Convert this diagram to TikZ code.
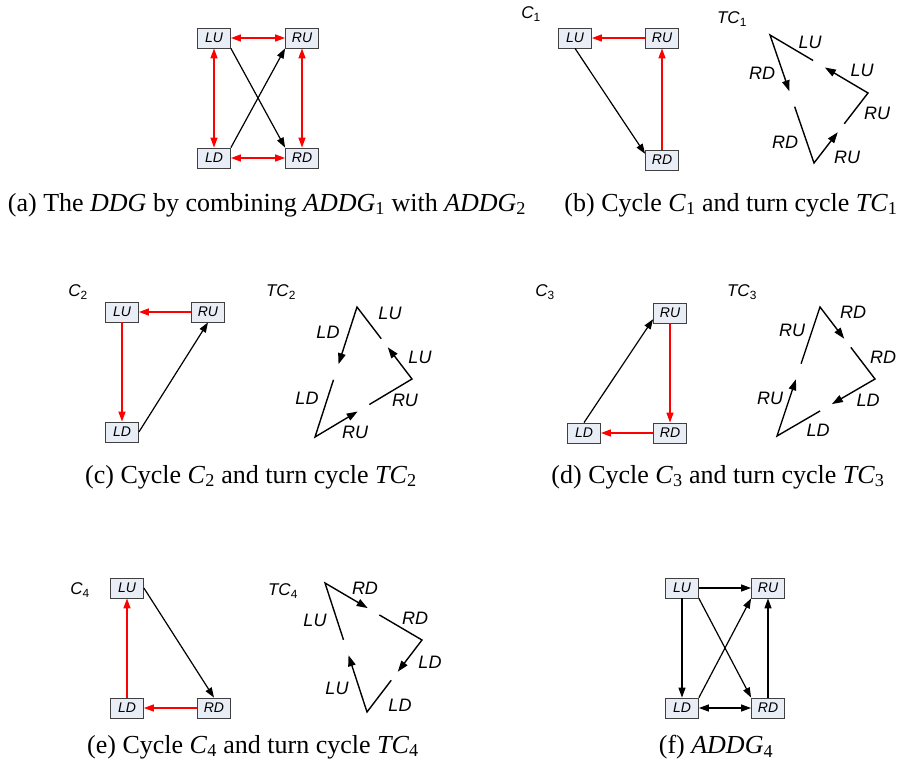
\documentclass[tikz,border=0pt]{standalone}
\usepackage{fontspec}
\setmainfont{Liberation Serif}
\setsansfont{Liberation Sans}
\usetikzlibrary{arrows.meta,calc}

\definecolor{boxfill}{HTML}{E8EDF6}
\definecolor{boxline}{HTML}{404040}

\begin{document}
\begin{tikzpicture}[
    x=1pt,
    y=-1pt,
    >={Triangle[length=10pt,width=7pt]},
    state/.style={draw=boxline, fill=boxfill, line width=0.8pt, minimum width=33pt,
      minimum height=20pt, inner sep=0pt, font=\sffamily\itshape\fontsize{14}{14}\selectfont},
    redarc/.style={draw=red, line width=1.3pt},
    blackarc/.style={draw=black, line width=1.2pt},
    turnline/.style={draw=black, line width=1.4pt, -{Triangle[length=11pt,width=7.5pt]}},
    turnlab/.style={font=\sffamily\itshape\fontsize{18}{18}\selectfont},
    cyclab/.style={font=\sffamily\fontsize{17}{17}\selectfont},
    caption/.style={font=\fontsize{26}{30}\selectfont}
  ]
    \fill[white] (0,0) rectangle (903,766);
    \useasboundingbox (0,0) rectangle (903,766);
    \newcommand{\turncycle}[3]{%
      \draw[turnline] ($(#3)!0.56!(#1)$) -- (#1) -- ($(#1)!0.44!(#2)$);
      \draw[turnline] ($(#1)!0.56!(#2)$) -- (#2) -- ($(#2)!0.44!(#3)$);
      \draw[turnline] ($(#2)!0.56!(#3)$) -- (#3) -- ($(#3)!0.44!(#1)$);
    }

    % (a) combined graph
    \node[state] (aLU) at (214,38) {LU};
    \node[state] (aRU) at (302,38) {RU};
    \node[state] (aLD) at (214,158) {LD};
    \node[state] (aRD) at (302,158) {RD};
    \draw[redarc, <->] (aLU) -- (aRU);
    \draw[redarc, <->] (aLD) -- (aRD);
    \draw[redarc, <->] (aLU) -- (aLD);
    \draw[redarc, <->] (aRU) -- (aRD);
    \draw[blackarc, ->] (aLU.south east) -- (aRD.north west);
    \draw[blackarc, ->] (aLD.north east) -- (aRU.south west);
    \node[caption] (capA) at (267,205) {(a) The \textit{DDG} by combining \textit{ADDG}\textsubscript{1} with \textit{ADDG}\textsubscript{2}};

    % (b) cycle C1
    \node[cyclab] (cycB) at (531,14) {\textit{C}\textsubscript{1}};
    \node[state] (bLU) at (575,38) {LU};
    \node[state] (bRU) at (662,38) {RU};
    \node[state] (bRD) at (662,160) {RD};
    \draw[redarc, ->] (bRU) -- (bLU);
    \draw[redarc, ->] (bRD) -- (bRU);
    \draw[blackarc, ->] (bLU.south) -- (bRD.160);
    \node[cyclab] (tcB) at (732,19) {\textit{TC}\textsubscript{1}};
    \coordinate (tbA) at (770,35);
    \coordinate (tbB) at (814,163);
    \coordinate (tbC) at (868,93);
    \turncycle{tbA}{tbB}{tbC}
    \foreach [count=\i] \x/\y/\t in {810/42/LU,762/73/RD,785/142/RD,847/157/RU,877/113/RU,862/70/LU} {
      \node[turnlab] (labB\i) at (\x,\y) {\t};
    }
    \node[caption] (capB) at (731,205) {(b) Cycle \textit{C}\textsubscript{1} and turn cycle \textit{TC}\textsubscript{1}};

    % (c) cycle C2
    \node[cyclab] (cycC) at (78,292) {\textit{C}\textsubscript{2}};
    \node[state] (cLU) at (122,312) {LU};
    \node[state] (cRU) at (208,312) {RU};
    \node[state] (cLD) at (122,432) {LD};
    \draw[redarc, ->] (cRU) -- (cLU);
    \draw[redarc, ->] (cLU) -- (cLD);
    \draw[blackarc, ->] (cLD.east) -- (cRU.south);
    \node[cyclab] (tcC) at (281,292) {\textit{TC}\textsubscript{2}};
    \coordinate (tcA) at (357,307);
    \coordinate (tcB) at (315,437);
    \coordinate (tcC) at (412,379);
    \turncycle{tcA}{tcB}{tcC}
    \foreach [count=\i] \x/\y/\t in {390/313/LU,328/332/LD,307/398/LD,355/432/RU,405/400/RU,420/357/LU} {
      \node[turnlab] (labC\i) at (\x,\y) {\t};
    }
    \node[caption] (capC) at (251,477) {(c) Cycle \textit{C}\textsubscript{2} and turn cycle \textit{TC}\textsubscript{2}};

    % (d) cycle C3
    \node[cyclab] (cycD) at (545,292) {\textit{C}\textsubscript{3}};
    \node[state] (dRU) at (670,313) {RU};
    \node[state] (dRD) at (670,433) {RD};
    \node[state] (dLD) at (584,433) {LD};
    \draw[redarc, ->] (dRU) -- (dRD);
    \draw[redarc, ->] (dRD) -- (dLD);
    \draw[blackarc, ->] (dLD.north) -- (dRU.200);
    \node[cyclab] (tcD) at (742,292) {\textit{TC}\textsubscript{3}};
    \coordinate (tdA) at (820,307);
    \coordinate (tdB) at (875,379);
    \coordinate (tdC) at (777,436);
    \turncycle{tdA}{tdB}{tdC}
    \foreach [count=\i] \x/\y/\t in {792/330/RU,853/312/RD,883/357/RD,868/400/LD,818/430/LD,770/398/RU} {
      \node[turnlab] (labD\i) at (\x,\y) {\t};
    }
    \node[caption] (capD) at (718,477) {(d) Cycle \textit{C}\textsubscript{3} and turn cycle \textit{TC}\textsubscript{3}};

    % (e) cycle C4
    \node[cyclab] (cycE) at (80,590) {\textit{C}\textsubscript{4}};
    \node[state] (eLU) at (127,588) {LU};
    \node[state] (eLD) at (127,708) {LD};
    \node[state] (eRD) at (214,708) {RD};
    \draw[redarc, ->] (eLD) -- (eLU);
    \draw[redarc, ->] (eRD) -- (eLD);
    \draw[blackarc, ->] (eLU.east) -- (eRD.north);
    \node[cyclab] (tcE) at (283,591) {\textit{TC}\textsubscript{4}};
    \coordinate (teA) at (325,583);
    \coordinate (teB) at (422,640);
    \coordinate (teC) at (367,712);
    \turncycle{teA}{teB}{teC}
    \foreach [count=\i] \x/\y/\t in {315/620/LU,365/588/RD,415/618/RD,430/662/LD,400/705/LD,337/688/LU} {
      \node[turnlab] (labE\i) at (\x,\y) {\t};
    }
    \node[caption] (capE) at (253,747) {(e) Cycle \textit{C}\textsubscript{4} and turn cycle \textit{TC}\textsubscript{4}};

    % (f) ADDG4
    \node[state] (fLU) at (682,588) {LU};
    \node[state] (fRU) at (768,588) {RU};
    \node[state] (fLD) at (682,708) {LD};
    \node[state] (fRD) at (768,708) {RD};
    \draw[blackarc, ->] (fLU) -- (fRU);
    \draw[blackarc, ->] (fLU) -- (fLD);
    \draw[blackarc, ->] (fLU.south east) -- (fRD.north west);
    \draw[blackarc, ->] (fLD.north east) -- (fRU.south west);
    \draw[blackarc, <->] (fLD) -- (fRD);
    \draw[blackarc, ->] (fRD) -- (fRU);
    \node[caption] (capF) at (716,747) {(f) \textit{ADDG}\textsubscript{4}};
  \end{tikzpicture}
\end{document}
